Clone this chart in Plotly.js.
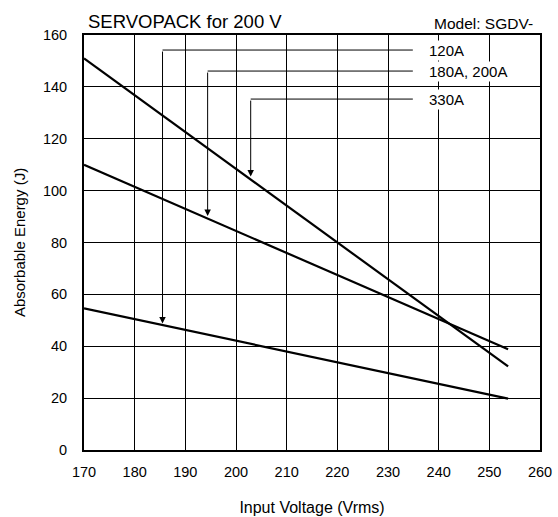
<!DOCTYPE html>
<html>
<head>
<meta charset="utf-8">
<script src="https://cdn.plot.ly/plotly-3.0.1.min.js"></script>
<style>html,body{margin:0;padding:0;background:#fff}#chart{width:558px;height:517px}</style>
</head>
<body>
<div id="chart"></div>
<script>
// Data
var voltage = [170, 253.7];
var energy330 = [151, 32.2];
var energy180 = [110, 38.8];
var energy120 = [54.6, 19.8];

// Leader labels: name, leader height (J), arrow tip (V, J)
var leaderNames = ["120A", "180A, 200A", "330A"];
var leaderLevel = [154.2, 146.1, 135.3];
var tipVoltage = [185.5, 194.4, 202.9];
var tipEnergy = [48.8, 90.2, 105.4];
var leaderEndVoltage = 234.9;
var labelVoltage = 237.6;

var xTicks = [170, 180, 190, 200, 210, 220, 230, 240, 250, 260];
var yTicks = [0, 20, 40, 60, 80, 100, 120, 140, 160];

var FONT = "Liberation Sans, Arial, sans-serif";

var traces = [
  {x: voltage, y: energy330, mode: "lines", line: {color: "#000", width: 2.2}, name: "330A"},
  {x: voltage, y: energy180, mode: "lines", line: {color: "#000", width: 2.2}, name: "180A, 200A"},
  {x: voltage, y: energy120, mode: "lines", line: {color: "#000", width: 2.2}, name: "120A"}
];

var annotations = [];
var shapes = [];
for (var i = 0; i < leaderNames.length; i++) {
  shapes.push({type: "line", xref: "x", yref: "y", x0: tipVoltage[i], x1: leaderEndVoltage,
    y0: leaderLevel[i], y1: leaderLevel[i], line: {color: "#000", width: 1}});
  annotations.push({x: tipVoltage[i], y: tipEnergy[i], ax: tipVoltage[i], ay: leaderLevel[i],
    xref: "x", yref: "y", axref: "x", ayref: "y", text: "", showarrow: true,
    arrowhead: 2, arrowsize: 1.3, arrowwidth: 1, arrowcolor: "#000", standoff: 0});
  annotations.push({x: labelVoltage, y: leaderLevel[i], xref: "x", yref: "y", text: leaderNames[i],
    showarrow: false, xanchor: "left", yanchor: "middle", bgcolor: "#fff", borderpad: 1,
    font: {family: FONT, size: 15, color: "#000"}});
}
annotations.push({xref: "paper", yref: "paper", x: 0.005, y: 1, yanchor: "bottom", xanchor: "left",
  yshift: 1, text: "SERVOPACK for 200 V", showarrow: false, font: {family: FONT, size: 18.5, color: "#000"}});
annotations.push({xref: "paper", yref: "paper", x: 0.99, y: 1, yanchor: "bottom", xanchor: "right",
  yshift: 1, text: "Model: SGDV-", showarrow: false, font: {family: FONT, size: 15.5, color: "#000"}});

var layout = {
  width: 558, height: 517,
  margin: {l: 84, r: 18, t: 35, b: 67},
  paper_bgcolor: "#fff", plot_bgcolor: "#fff",
  showlegend: false,
  font: {family: FONT, color: "#000"},
  xaxis: {range: [170, 260], tickvals: xTicks, ticktext: xTicks.map(String),
    showgrid: true, gridcolor: "#000", gridwidth: 1, zeroline: false,
    showline: true, linecolor: "#000", linewidth: 2, mirror: true,
    ticks: "", ticklabelstandoff: 8,
    tickfont: {family: FONT, size: 14.5, color: "#000"},
    title: {text: "Input Voltage (Vrms)", font: {family: FONT, size: 16, color: "#000"}, standoff: 22}},
  yaxis: {range: [0, 160], tickvals: yTicks, ticktext: yTicks.map(String),
    showgrid: true, gridcolor: "#000", gridwidth: 1, zeroline: false,
    showline: true, linecolor: "#000", linewidth: 2, mirror: true,
    ticks: "", ticklabelstandoff: 12,
    tickfont: {family: FONT, size: 14.5, color: "#000"},
    title: {text: "Absorbable Energy (J)", font: {family: FONT, size: 15, color: "#000"}, standoff: 14}},
  shapes: shapes,
  annotations: annotations
};

Plotly.newPlot("chart", traces, layout, {displayModeBar: false, staticPlot: true});
</script>
</body>
</html>
